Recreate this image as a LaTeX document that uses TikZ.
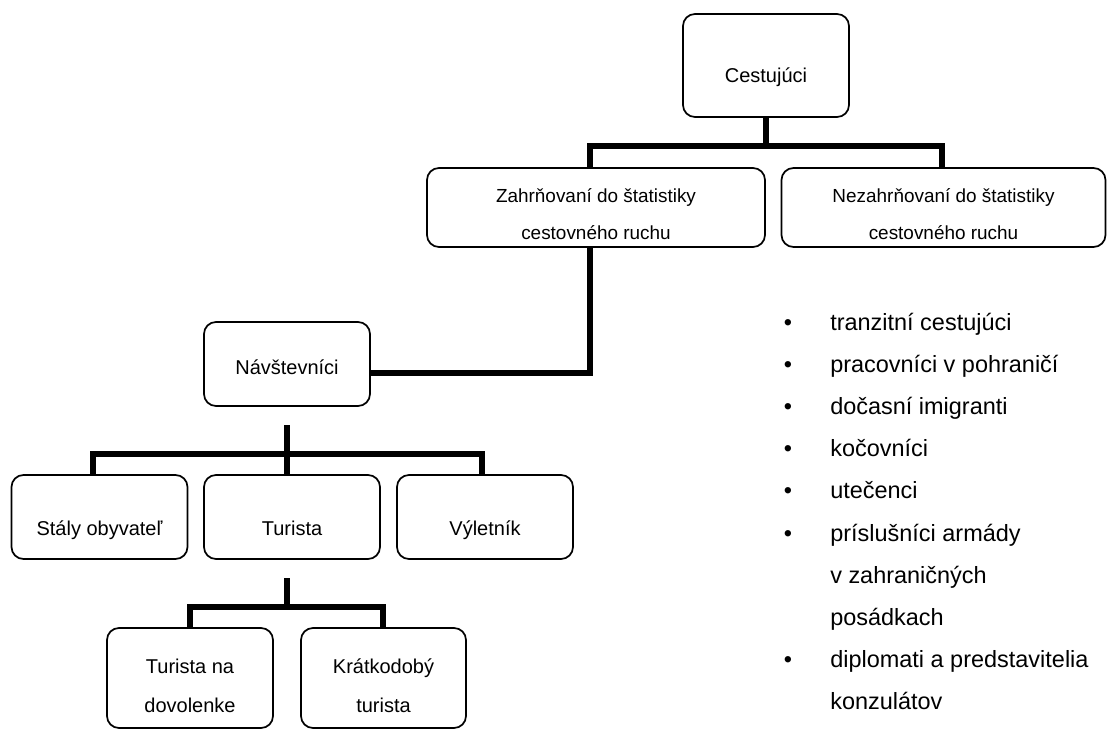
\documentclass[tikz,border=0pt]{standalone}
\usepackage{fontspec}
\setmainfont{Liberation Sans}
\begin{document}
\begin{tikzpicture}[x=0.75pt,y=-0.75pt,
  box/.style={draw,line width=1.3pt,rounded corners=9pt,align=center,font=\fontsize{15}{20}\selectfont,inner sep=0pt},
  conn/.style={line width=3.9pt,line join=miter,line cap=butt},
  item/.style={anchor=base west,inner sep=0pt,font=\fontsize{17.6}{20}\selectfont},
  dot/.style={anchor=base,inner sep=0pt,font=\fontsize{17.6}{20}\selectfont}]
\useasboundingbox (0,0) rectangle (1108,729);
% nodes
\node[box,minimum width=124.5pt,minimum height=77.25pt] (ces) at (766,65.5) {\raisebox{-12.4pt}[0pt][0pt]{Cestujúci}};
\node[box,minimum width=253.5pt,minimum height=59.25pt,font=\fontsize{14.2}{27.75}\selectfont] (zah) at (596,207.5) {\raisebox{3.4pt}[0pt][0pt]{\parbox[t]{240pt}{\centering Zahrňovaní do štatistiky\\cestovného ruchu}}};
\node[box,minimum width=243pt,minimum height=59.25pt,font=\fontsize{14.2}{27.75}\selectfont] (nez) at (943.5,207.5) {\raisebox{3.4pt}[0pt][0pt]{\parbox[t]{235pt}{\centering Nezahrňovaní do štatistiky\\cestovného ruchu}}};
\node[box,minimum width=124.5pt,minimum height=63pt] (nav) at (287,364) {\raisebox{-7.5pt}[0pt][0pt]{Návštevníci}};
\node[box,minimum width=132pt,minimum height=63pt] (sta) at (99.5,517) {\raisebox{-13.5pt}[0pt][0pt]{Stály obyvateľ}};
\node[box,minimum width=132pt,minimum height=63pt] (tur) at (292,517) {\raisebox{-13.5pt}[0pt][0pt]{Turista}};
\node[box,minimum width=132pt,minimum height=63pt] (vyl) at (485,517) {\raisebox{-13.5pt}[0pt][0pt]{Výletník}};
\node[box,minimum width=124.5pt,minimum height=75pt,font=\fontsize{15}{29.25}\selectfont] (tnd) at (190,678) {\raisebox{3.75pt}[0pt][0pt]{\parbox[t]{120pt}{\centering Turista na\\dovolenke}}};
\node[box,minimum width=123.75pt,minimum height=75pt,font=\fontsize{15}{29.25}\selectfont] (kra) at (383.5,678) {\raisebox{3.75pt}[0pt][0pt]{\parbox[t]{120pt}{\centering Krátkodobý\\turista}}};
% junction coordinates
\coordinate (a1) at (590,146);
\coordinate (a2) at (942,146);
\coordinate (b) at (590,373);
\coordinate (n0) at (287,425);
\coordinate (n1) at (93,454);
\coordinate (n2) at (287,454);
\coordinate (n3) at (482,454);
\coordinate (t0) at (287,578);
\coordinate (t1) at (190,607);
\coordinate (t2) at (287,607);
\coordinate (t3) at (383,607);
% connectors
\draw[conn] (ces.south) -- (ces.south |- a1);
\draw[conn] (a1 |- zah.north) -- (a1) -- (a2) -- (a2 |- nez.north);
\draw[conn] (a1 |- zah.south) -- (b) -- (b -| nav.east);
\draw[conn] (n0) -- (n2);
\draw[conn] (n1 |- sta.north) -- (n1) -- (n3) -- (n3 |- vyl.north);
\draw[conn] (n2) -- (n2 |- tur.north);
\draw[conn] (t0) -- (t2);
\draw[conn] (t1 |- tnd.north) -- (t1) -- (t3) -- (t3 |- kra.north);
% bullet list
\foreach \k/\t in {0/tranzitní cestujúci,1/pracovníci v pohraničí,2/dočasní imigranti,3/kočovníci,4/utečenci,5/príslušníci armády,6/v zahraničných,7/posádkach,8/diplomati a predstavitelia,9/konzulátov}{
  \node[item] (it\k) at (830,330+42.2*\k) {\t};
}
\foreach \k in {0,1,2,3,4,5,8}{
  \node[dot] (d\k) at (788,330+42.2*\k) {•};
}
\end{tikzpicture}
\end{document}
